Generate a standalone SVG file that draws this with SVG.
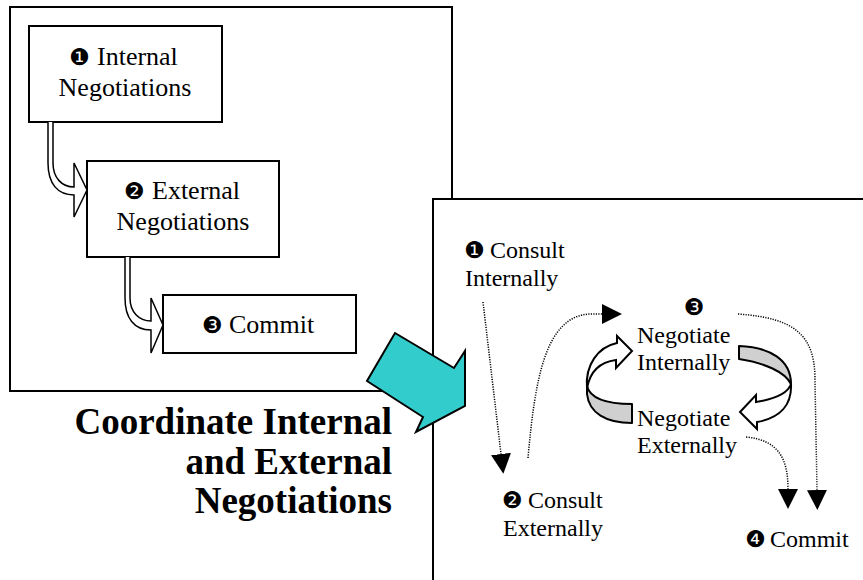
<svg xmlns="http://www.w3.org/2000/svg" width="863" height="580" viewBox="0 0 863 580">
  <style>
    .frame { fill: #ffffff; stroke: #000000; stroke-width: 2; }
    .box { fill: #ffffff; stroke: #000000; stroke-width: 2; }
    .txt { font-family: "Liberation Serif", "Times New Roman", serif; fill: #000000; }
    .big { font-size: 26px; }
    .mid { font-size: 24px; }
    .num { font-family: "DejaVu Sans", sans-serif; font-size: 23px; }
    .title { font-family: "Liberation Serif", "Times New Roman", serif; font-size: 37px; font-weight: bold; fill: #000000; }
    .hollow { fill: #ffffff; stroke: #000000; stroke-width: 1.5; stroke-linejoin: miter; }
    .ribbon { fill: #d0d0d0; stroke: #000000; stroke-width: 2; stroke-linejoin: round; }
    .band { fill: #ffffff; stroke: #000000; stroke-width: 2; stroke-linejoin: miter; }
    .dots { fill: none; stroke: #000000; stroke-width: 1.5; stroke-dasharray: 1.2 1.3; marker-end: url(#head); }
    .big-arrow { fill: #33cccc; stroke: #000000; stroke-width: 2; stroke-linejoin: miter; }
  </style>
  <defs>
    <marker id="head" markerUnits="userSpaceOnUse" markerWidth="20" markerHeight="20" refX="0" refY="10" orient="auto" viewBox="0 0 20 20">
      <path d="M0,0 L20,10 L0,20 Z" fill="#000000"/>
    </marker>
  </defs>

  <rect width="863" height="580" fill="#ffffff"/>

  <!-- Left panel: sequential negotiation -->
  <g id="left-panel">
    <rect class="frame" x="10" y="7" width="442" height="384"/>
  </g>

  <g id="internal-negotiations">
    <rect class="box" x="29" y="26" width="193" height="96"/>
    <text class="txt big" y="65"><tspan class="num" x="69">❶</tspan><tspan x="97">Internal</tspan></text>
    <text class="txt big" x="125" y="96" text-anchor="middle">Negotiations</text>
  </g>

  <g id="external-negotiations">
    <rect class="box" x="87" y="161" width="192" height="96"/>
    <text class="txt big" y="199"><tspan class="num" x="124">❷</tspan><tspan x="152">External</tspan></text>
    <text class="txt big" x="183" y="230" text-anchor="middle">Negotiations</text>
  </g>

  <g id="commit-left">
    <rect class="box" x="163" y="295" width="193" height="58"/>
    <text class="txt big" y="333"><tspan class="num" x="202">❸</tspan><tspan x="229">Commit</tspan></text>
  </g>

  <g id="left-connectors">
    <path class="hollow" d="M48,122 L48,163 C48,184 58,195 74,195 L74,217 L87,190 L74,163 L74,187 C62,187 53,178 53,163 L53,122"/>
    <path class="hollow" d="M125,257 L125,298 C125,318 134,330 151,330 L151,353 L163,325 L151,298 L151,321 C139,321 130,312 130,298 L130,257"/>
  </g>

  <g id="title">
    <text class="title" text-anchor="end" x="392" y="434">Coordinate Internal</text>
    <text class="title" text-anchor="end" x="392" y="474">and External</text>
    <text class="title" text-anchor="end" x="392" y="513">Negotiations</text>
  </g>

  <!-- Right panel: coordinated negotiation -->
  <g id="right-panel">
    <rect class="frame" x="433" y="199" width="450" height="400"/>
  </g>

  <g id="consult-internally">
    <text class="txt mid" y="258"><tspan class="num" x="464">❶</tspan><tspan x="490">Consult</tspan></text>
    <text class="txt mid" x="465" y="286">Internally</text>
  </g>

  <g id="consult-externally">
    <text class="txt mid" y="508"><tspan class="num" x="502">❷</tspan><tspan x="528">Consult</tspan></text>
    <text class="txt mid" x="503" y="536">Externally</text>
  </g>

  <g id="negotiate">
    <text class="txt num" x="694" y="315" text-anchor="middle">❸</text>
    <text class="txt mid" x="637" y="343">Negotiate</text>
    <text class="txt mid" x="637" y="370">Internally</text>
    <text class="txt mid" x="637" y="426">Negotiate</text>
    <text class="txt mid" x="637" y="453">Externally</text>
  </g>

  <g id="commit-right">
    <text class="txt mid" y="547"><tspan class="num" x="745">❹</tspan><tspan x="770">Commit</tspan></text>
  </g>

  <!-- Circular loop between internal and external negotiation -->
  <g id="negotiation-loop">
    <path class="ribbon" d="M587,386 C590,398 606,404 632,404 L632,423 C606,423 589,413 587,394 Z"/>
    <path class="band" d="M587,388 C585,365 598,347 617,343 L617,336 L632,351 L616,368 L616,360 C600,362 590,372 587,388 Z"/>
    <path class="ribbon" d="M739,346 C770,347 791,360 791,384 C785,372 765,363 739,359 Z"/>
    <path class="band" d="M791,384 C792,405 780,418 757,422 L757,429 L740,412 L756,395 L756,402 C775,399 788,393 791,384 Z"/>
  </g>

  <g id="right-connectors">
    <path class="dots" d="M483,302 L501,454"/>
    <path class="dots" d="M528,458 C535,380 545,316 590,314 L602,314"/>
    <path class="dots" d="M738,314 C795,318 815,335 815,380 L817,490"/>
    <path class="dots" d="M746,437 C778,440 788,458 788,489"/>
  </g>

  <g id="transition-arrow">
    <polygon class="big-arrow" points="395,333 454,368 465,351 465,406 416,432 423,417 367,381"/>
  </g>
</svg>
